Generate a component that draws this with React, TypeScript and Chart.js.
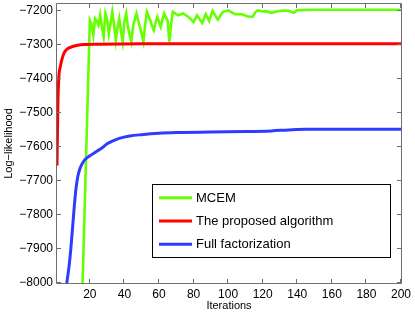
import React, { useEffect, useRef } from "react";
import { Chart, registerables } from "chart.js";

Chart.register(...registerables);

const SERIES_LABELS = ["MCEM", "The proposed algorithm", "Full factorization"];
const SERIES_COLORS = ["#66ff00", "#ff0000", "#2d3cff"];

const MCEM_X = [15, 20, 21, 22, 23, 24, 25, 26, 27, 28, 29, 30, 31, 32, 33, 34, 35, 36, 37, 38, 39, 40, 41, 42, 43, 44, 45, 46, 47, 48, 49, 50, 51, 52, 53, 54, 55, 56, 57, 58, 59, 60, 61, 62, 63, 64, 65, 66, 67, 68, 70, 71, 74, 77, 80, 82, 85, 87, 89, 91, 93, 94, 96, 97, 100, 104, 108, 111, 114, 116, 117, 120, 122, 125, 128, 132, 135, 138, 140, 150, 200];
const MCEM_Y = [-8150, -7228, -7240, -7272, -7223, -7230, -7242, -7213, -7250, -7277, -7208, -7225, -7267, -7235, -7203, -7240, -7287, -7250, -7223, -7260, -7291, -7230, -7208, -7247, -7270, -7291, -7245, -7225, -7208, -7230, -7247, -7270, -7291, -7240, -7203, -7215, -7228, -7245, -7257, -7235, -7218, -7232, -7247, -7225, -7208, -7220, -7228, -7291, -7240, -7203, -7210, -7213, -7208, -7218, -7233, -7213, -7236, -7210, -7230, -7200, -7218, -7226, -7210, -7203, -7199, -7210, -7210, -7216, -7218, -7203, -7199, -7202, -7201, -7206, -7202, -7199, -7200, -7206, -7198, -7197, -7197];

const PROPOSED_X = [1, 1.5, 2, 3, 4, 5, 6, 7, 8, 10, 13, 17, 25, 50, 200];
const PROPOSED_Y = [-7655, -7480, -7400, -7362, -7340, -7325, -7317, -7312, -7309, -7305, -7301, -7299, -7298, -7297, -7297];

const FULL_X = [5, 6, 7, 8, 9, 10, 11, 12, 13, 14, 15, 17, 20, 24, 27, 30, 33, 37, 43, 50, 60, 70, 90, 110, 125, 135, 145, 200];
const FULL_Y = [-8100, -8030, -7988, -7950, -7900, -7838, -7775, -7722, -7688, -7668, -7655, -7638, -7626, -7613, -7603, -7591, -7583, -7575, -7568, -7564, -7560, -7558, -7556, -7555, -7553, -7550, -7548, -7548];

const X_TICKS = [20, 40, 60, 80, 100, 120, 140, 160, 180, 200];
const Y_TICKS = [-8000, -7900, -7800, -7700, -7600, -7500, -7400, -7300, -7200];
const X_MIN = 1;
const X_MAX = 200;
const Y_MIN = -8000;
const Y_MAX = -7180;

const FONT = "'Liberation Sans', Arial, Helvetica, sans-serif";
const AXIS_COLOR = "#6e6e6e";

const toPoints = (xs: number[], ys: number[]) => xs.map((x, i) => ({ x, y: ys[i] }));
const fmt = (v: number) => (v < 0 ? "\u2212" + Math.abs(v) : String(v));

const framePlugin = {
  id: "frameTicks",
  afterDatasetsDraw(chart: any) {
    const { ctx, chartArea } = chart;
    const { left, right, top, bottom } = chartArea;
    const xs = chart.scales.x;
    const ys = chart.scales.y;
    const tl = 4;
    ctx.save();
    ctx.strokeStyle = AXIS_COLOR;
    ctx.lineWidth = 1;
    ctx.beginPath();
    ctx.rect(Math.round(left) - 0.5, Math.round(top) - 0.5, Math.round(right - left) + 1, Math.round(bottom - top) + 1);
    for (const v of X_TICKS) {
      const px = Math.round(xs.getPixelForValue(v)) - 0.5;
      ctx.moveTo(px, bottom);
      ctx.lineTo(px, bottom - tl);
      ctx.moveTo(px, top);
      ctx.lineTo(px, top + tl);
    }
    for (const v of Y_TICKS) {
      const py = Math.round(ys.getPixelForValue(v)) - 0.5;
      ctx.moveTo(left, py);
      ctx.lineTo(left + tl, py);
      ctx.moveTo(right, py);
      ctx.lineTo(right - tl, py);
    }
    ctx.stroke();
    ctx.restore();
  },
  afterDraw(chart: any) {
    const { ctx } = chart;
    const bx = 152.5, by = 184.5, bw = 238, bh = 73;
    ctx.save();
    ctx.fillStyle = "#ffffff";
    ctx.fillRect(bx, by, bw, bh);
    ctx.strokeStyle = "#000000";
    ctx.lineWidth = 1;
    ctx.strokeRect(bx, by, bw, bh);
    chart.data.datasets.forEach((ds: any, i: number) => {
      const y = 197.7 + i * 23.3;
      ctx.strokeStyle = ds.borderColor;
      ctx.lineWidth = 3;
      ctx.beginPath();
      ctx.moveTo(159, y);
      ctx.lineTo(192, y);
      ctx.stroke();
      ctx.fillStyle = "#000";
      ctx.font = `13px ${FONT}`;
      ctx.textBaseline = "middle";
      ctx.textAlign = "left";
      ctx.fillText(ds.label, 196, y + 0.5);
    });
    ctx.restore();
  },
};

export default function App() {
  const ref = useRef<HTMLCanvasElement | null>(null);

  useEffect(() => {
    if (!ref.current) return;
    const chart = new Chart(ref.current, {
      type: "line",
      data: {
        datasets: [
          {
            label: SERIES_LABELS[0],
            data: toPoints(MCEM_X, MCEM_Y),
            borderColor: SERIES_COLORS[0],
            borderWidth: 2.6,
            pointRadius: 0,
            tension: 0,
            order: 3,
          },
          {
            label: SERIES_LABELS[1],
            data: toPoints(PROPOSED_X, PROPOSED_Y),
            borderColor: SERIES_COLORS[1],
            borderWidth: 3,
            pointRadius: 0,
            cubicInterpolationMode: "monotone",
            order: 2,
          },
          {
            label: SERIES_LABELS[2],
            data: toPoints(FULL_X, FULL_Y),
            borderColor: SERIES_COLORS[2],
            borderWidth: 3,
            pointRadius: 0,
            cubicInterpolationMode: "monotone",
            order: 1,
          },
        ],
      },
      options: {
        animation: false,
        responsive: false,
        devicePixelRatio: 1,
        layout: { padding: { left: 0, top: 4, right: 14, bottom: 0 } },
        plugins: { legend: { display: false }, tooltip: { enabled: false } },
        scales: {
          x: {
            type: "linear",
            min: X_MIN,
            max: X_MAX,
            grid: { display: false, drawTicks: false },
            border: { display: false },
            afterBuildTicks: (s: any) => {
              s.ticks = X_TICKS.map((v) => ({ value: v }));
            },
            afterFit: (s: any) => {
              s.height = 31;
              s.paddingLeft = 0;
              s.paddingRight = 0;
            },
            ticks: {
              padding: 4,
              color: "#000",
              font: { family: FONT, size: 12 },
              maxRotation: 0,
              autoSkip: false,
              callback: (v: any) => fmt(Number(v)),
            },
            title: {
              display: true,
              text: "Iterations",
              color: "#000",
              font: { family: FONT, size: 11 },
              padding: { top: 0, bottom: 1 },
            },
          },
          y: {
            type: "linear",
            min: Y_MIN,
            max: Y_MAX,
            grid: { display: false, drawTicks: false },
            border: { display: false },
            afterBuildTicks: (s: any) => {
              s.ticks = Y_TICKS.map((v) => ({ value: v }));
            },
            afterFit: (s: any) => {
              s.width = 57;
              s.paddingTop = 0;
              s.paddingBottom = 0;
            },
            ticks: {
              padding: 4,
              color: "#000",
              font: { family: FONT, size: 12 },
              autoSkip: false,
              callback: (v: any) => fmt(Number(v)),
            },
            title: {
              display: true,
              text: "Log\u2212likelihood",
              color: "#000",
              font: { family: FONT, size: 11 },
              padding: { top: 2, bottom: 0 },
            },
          },
        },
      },
      plugins: [framePlugin],
    });
    return () => chart.destroy();
  }, []);

  return (
    <div style={{ position: "fixed", left: 0, top: 0, width: 415, height: 314, background: "#fff" }}>
      <canvas ref={ref} width={415} height={314} style={{ display: "block" }} />
    </div>
  );
}
